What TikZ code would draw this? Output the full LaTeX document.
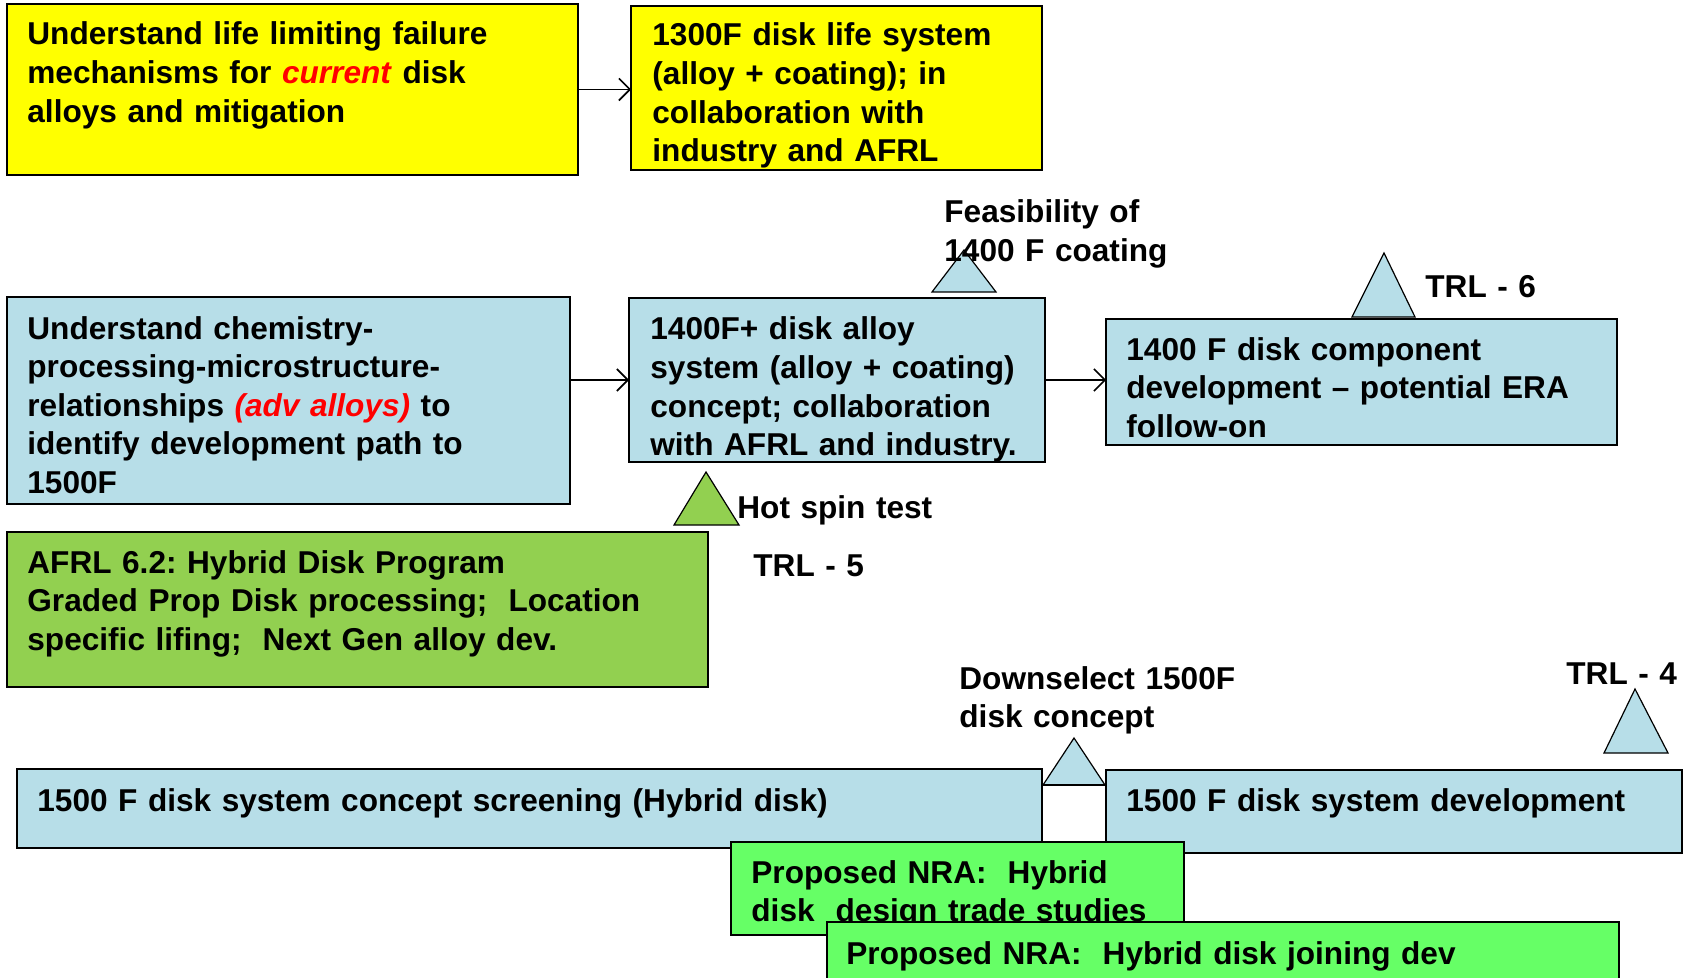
\documentclass[tikz,border=0pt]{standalone}
\usepackage{fontspec}
\setmainfont{Liberation Sans}
\usetikzlibrary{arrows.meta}
\definecolor{ylw}{HTML}{FFFF00}
\definecolor{lblue}{HTML}{B7DEE8}
\definecolor{mgreen}{HTML}{92D050}
\definecolor{bgreen}{HTML}{66FF66}
\definecolor{redtxt}{HTML}{FF0000}
\newcommand{\redword}[1]{\textcolor{redtxt}{\textit{#1}}}
\frenchspacing
\begin{document}
\begin{tikzpicture}[x=0.5pt,y=-0.5pt,
  boxshape/.style={draw=black, line width=1pt, inner sep=0pt, outer sep=0pt, anchor=north west, rectangle},
  txt/.style={inner sep=0pt, anchor=base west, align=left, text width=420pt, font=\fontsize{15.8}{19.3}\selectfont\bfseries},
  tri/.style={draw=black, line width=0.6pt, line join=miter},
  conn/.style={draw=black, line width=0.8pt, -{Straight Barb[length=5.5pt,width=11pt]}}]
\useasboundingbox (0,0) rectangle (1684,978);
\begin{scope}
\clip (0,0) rectangle (1684,978);
% top row
\node[boxshape, fill=ylw, minimum width=285.5pt, minimum height=85.5pt] (b1) at (7,4) {};
\node[txt] (t1) at (27,45) {Understand life limiting failure\\mechanisms for \redword{current} disk\\alloys and mitigation};
\node[boxshape, fill=ylw, minimum width=205.5pt, minimum height=82pt] (b2) at (631,6) {};
\node[txt] (t2) at (652,46) {1300F disk life system\\(alloy + coating); in\\collaboration with\\industry and AFRL};
\draw[conn] (b1.east) -- (b1.east -| b2.west);
% middle row
\node[boxshape, fill=lblue, minimum width=281.5pt, minimum height=103.5pt] (b3) at (7,297) {};
\node[txt] (t3) at (27,339) {Understand chemistry-\\processing-microstructure-\\relationships \redword{(adv alloys)} to\\identify development path to\\1500F};
\node[boxshape, fill=lblue, minimum width=208pt, minimum height=82pt] (b4) at (629,298) {};
\node[txt] (t4) at (650,340) {1400F+ disk alloy\\system (alloy + coating)\\concept; collaboration\\with AFRL and industry.};
\node[boxshape, fill=lblue, minimum width=255.5pt, minimum height=63pt] (b5) at (1106,319) {};
\node[txt] (t5) at (1126,360) {1400 F disk component\\development -- potential ERA\\follow-on};
\draw[conn] (b4.west -| b3.east) -- (b4.west);
\draw[conn] (b4.east) -- (b4.east -| b5.west);
% milestones middle
\draw[tri, fill=lblue] (932,292) -- (964,250) -- (996,292) -- cycle;
\node[txt] (f1) at (944,223) {Feasibility of\\1400 F coating};
\draw[tri, fill=lblue] (1352,317) -- (1384,253) -- (1415,317) -- cycle;
\node[txt] (trl6) at (1425,298) {TRL - 6};
\draw[tri, fill=mgreen] (674,525) -- (706,472) -- (739,525) -- cycle;
\node[txt] (hot) at (737,518) {Hot spin test};
\node[txt] (trl5) at (753,576) {TRL - 5};
% AFRL
\node[boxshape, fill=mgreen, minimum width=350.5pt, minimum height=77.5pt] (b6) at (7,532) {};
\node[txt] (t6) at (27,573) {AFRL 6.2: Hybrid Disk Program\\Graded Prop Disk processing;\ \ Location\\specific lifing;\ \ Next Gen alloy dev.};
% bottom row
\node[txt] (ds) at (959,689) {Downselect 1500F\\disk concept};
\node[txt] (trl4) at (1566,684) {TRL - 4};
\draw[tri, fill=lblue] (1604,753) -- (1635,689) -- (1668,753) -- cycle;
\node[boxshape, fill=lblue, minimum width=512.5pt, minimum height=39.5pt] (b7) at (17,769) {};
\node[txt] (t7) at (37,811) {1500 F disk system concept screening (Hybrid disk)};
\node[boxshape, fill=lblue, minimum width=288pt, minimum height=41.5pt] (b8) at (1106,770) {};
\node[txt] (t8) at (1126,811) {1500 F disk system development};
\draw[tri, fill=lblue] (1043,785) -- (1074,738) -- (1105,785) -- cycle;
\draw[line width=1pt] (1043,785) -- (1105,785);
\node[boxshape, fill=bgreen, minimum width=226.5pt, minimum height=46.5pt] (b9) at (731,842) {};
\node[txt] (t9) at (751,883) {Proposed NRA:\ \ Hybrid\\disk\ \ design trade studies};
\node[boxshape, fill=bgreen, minimum width=396pt, minimum height=40pt] (b10) at (827,922) {};
\node[txt] (t10) at (846,964) {Proposed NRA:\ \ Hybrid disk joining dev};
\end{scope}
\end{tikzpicture}
\end{document}
